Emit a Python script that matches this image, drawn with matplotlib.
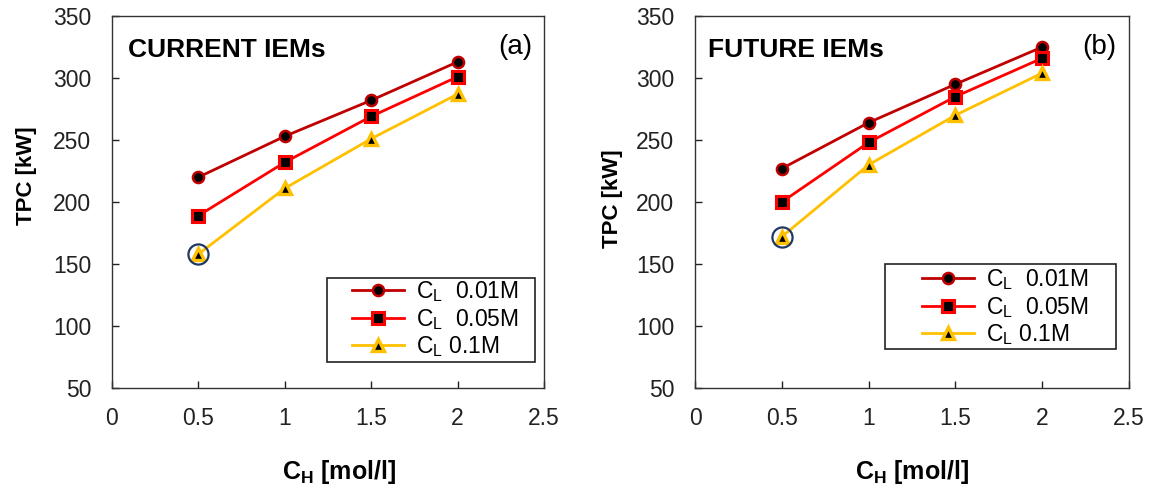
import matplotlib
matplotlib.use("Agg")
import matplotlib.pyplot as plt
from matplotlib.patches import Rectangle

plt.rcParams['font.family'] = ['Liberation Sans', 'DejaVu Sans']
plt.rcParams['mathtext.fontset'] = 'custom'
plt.rcParams['mathtext.rm'] = 'Liberation Sans'
plt.rcParams['mathtext.it'] = 'Liberation Sans'
plt.rcParams['mathtext.bf'] = 'Liberation Sans:bold'

# H-side concentration [mol/l]
c_high = [0.5, 1.0, 1.5, 2.0]

# total power capacity [kW] for each low-side concentration
current_001 = [220, 253, 282, 313]
current_005 = [189, 232, 269, 301]
current_01 = [158, 211, 251, 287]

future_001 = [227, 264, 295, 325]
future_005 = [200, 248, 285, 316]
future_01 = [172, 230, 270, 304]

series_labels = [r"C$_\mathrm{L}$  0.01M", r"C$_\mathrm{L}$  0.05M", r"C$_\mathrm{L}$ 0.1M"]
panel_titles = ["CURRENT IEMs", "FUTURE IEMs"]
panel_tags = ["(a)", "(b)"]

fig = plt.figure(figsize=(11.53, 4.88), dpi=100)
ax1 = fig.add_axes([0.0971, 0.2049, 0.3747, 0.7623])
ax2 = fig.add_axes([0.6028, 0.2049, 0.3764, 0.7623])

styles = [
    dict(color="#C00000", marker="o", markersize=8, markerfacecolor="black",
         markeredgecolor="#C00000", markeredgewidth=1.8),
    dict(color="#FF0000", marker="s", markersize=8, markerfacecolor="black",
         markeredgecolor="#FF0000", markeredgewidth=2.2),
    dict(color="#FFC000", marker="^", markersize=8.5, markerfacecolor="black",
         markeredgecolor="#FFC000", markeredgewidth=2.4),
]

# per panel: legend frame [x0, y0, x1, y1], legend anchor, title x,
# ylabel coords, xlabel x  (all in axes fraction)
panels = [
    (ax1, [current_001, current_005, current_01], (0.498, 0.070, 0.979, 0.296), (0.555, 0.293),
     0.037, (-0.174, 0.57), 0.526),
    (ax2, [future_001, future_005, future_01], (0.438, 0.105, 0.970, 0.333), (0.522, 0.325),
     0.030, (-0.166, 0.51), 0.5),
]

for i, (ax, data, box, anchor, title_x, ylab_xy, xlab_x) in enumerate(panels):
    for values, label, st in zip(data, series_labels, styles):
        ax.plot(c_high, values, linewidth=2, label=label, **st)

    # highlight the lowest-capacity case
    lowest = data[2]
    ax.plot(c_high[0], lowest[0], marker="o", markersize=14.5, markerfacecolor="none",
            markeredgecolor="#1F3864", markeredgewidth=1.6, linestyle="none")

    ax.set_xlim(0, 2.5)
    ax.set_ylim(50, 350)
    ax.set_xticks([0, 0.5, 1, 1.5, 2, 2.5])
    ax.set_xticklabels(["0", "0.5", "1", "1.5", "2", "2.5"])
    ax.set_yticks(range(50, 351, 50))
    ax.tick_params(direction="in", length=5, width=1, labelsize=16.5, colors="#222222")
    ax.tick_params(axis="y", pad=15)
    ax.tick_params(axis="x", pad=14)
    for sp in ax.spines.values():
        sp.set_linewidth(1)
        sp.set_color("#333333")

    ax.set_xlabel(r"$\mathbf{C_H}$ [mol/l]", fontsize=18, fontweight="bold")
    ax.xaxis.set_label_coords(xlab_x, -0.188)
    ax.set_ylabel("TPC [kW]", fontsize=16, fontweight="bold")
    ax.yaxis.set_label_coords(*ylab_xy)

    ax.text(title_x, 0.909, panel_titles[i], transform=ax.transAxes, fontsize=19,
            fontweight="bold", va="center", ha="left")
    ax.text(0.972, 0.918, panel_tags[i], transform=ax.transAxes, fontsize=20,
            va="center", ha="right")

    x0, y0, x1, y1 = box
    ax.add_patch(Rectangle((x0, y0), x1 - x0, y1 - y0, transform=ax.transAxes,
                           facecolor="white", edgecolor="#222222", linewidth=1.2, zorder=4))
    leg = ax.legend(loc="upper left", bbox_to_anchor=anchor, fontsize=16.5,
                    frameon=False, handlelength=2.3, handletextpad=0.5,
                    labelspacing=0.12, borderpad=0, borderaxespad=0)
    leg.set_zorder(5)

fig.savefig("out.png", dpi=100)
